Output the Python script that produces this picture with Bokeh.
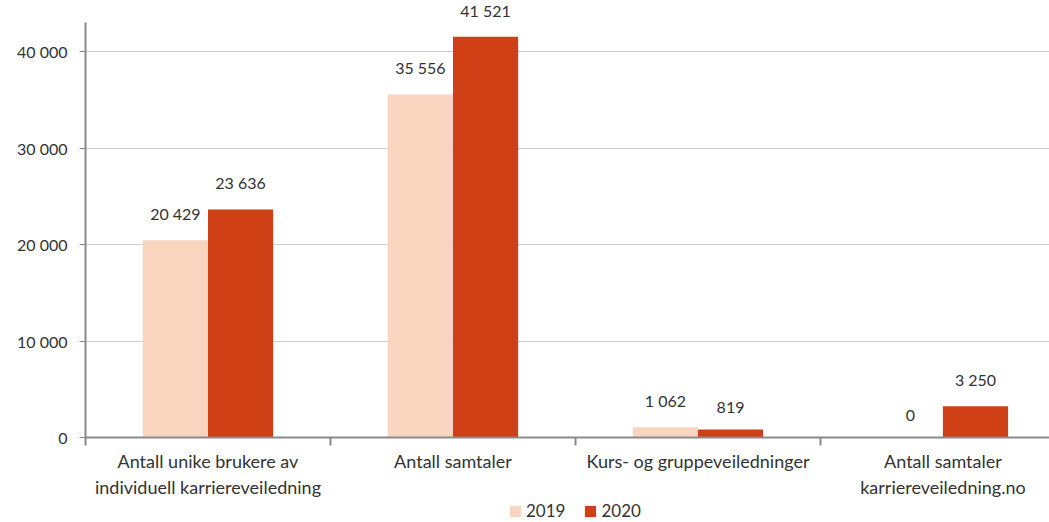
from bokeh.plotting import figure
from bokeh.models import (ColumnDataSource, Range1d, FixedTicker, Legend, LegendItem, LabelSet)
from bokeh.core.properties import value
from bokeh.embed import file_html
from bokeh.resources import INLINE

categories = ["Antall unike brukere av\nindividuell karriereveiledning",
              "Antall samtaler",
              "Kurs- og gruppeveiledninger",
              "Antall samtaler\nkarriereveiledning.no"]
years = ["2019", "2020"]
v2019 = [20429, 35556, 1062, 0]
v2020 = [23636, 41521, 819, 3250]
y_ticks = [0, 10000, 20000, 30000, 40000]

def fmt(v):
    return f"{v:,}".replace(",", " ")

FONT = "Lato"
TXT = "#333333"
C19 = "#F9D5C0"
C20 = "#CF4016"
AX = "#8a8a8a"

centers = [i + 0.5 for i in range(len(categories))]
src19 = ColumnDataSource(dict(x=[c - 0.133 for c in centers], top=v2019,
                              lab=[fmt(v) for v in v2019]))
src20 = ColumnDataSource(dict(x=[c + 0.133 for c in centers], top=v2020,
                              lab=[fmt(v) for v in v2020]))

p = figure(width=1049, height=522, output_backend="svg", toolbar_location=None,
           x_range=Range1d(0, 3.935), y_range=Range1d(-8808, 45285),
           min_border_left=85, min_border_right=0, min_border_top=0,
           min_border_bottom=0)
p.outline_line_color = None
p.xgrid.grid_line_color = None
p.ygrid.grid_line_color = "#9a9a9a"
p.ygrid.grid_line_dash = "1 1"
p.ygrid.grid_line_width = 1

r19 = p.vbar(x="x", top="top", width=0.266, source=src19, color=C19, line_color=None)
r20 = p.vbar(x="x", top="top", width=0.266, source=src20, color=C20, line_color=None)

for s in (src19, src20):
    p.add_layout(LabelSet(x="x", y="top", text="lab", source=s, text_align="center",
                          text_baseline="bottom", y_offset=17, text_font=value(FONT),
                          text_font_size="16px", text_color=TXT))

# y axis
p.yaxis.ticker = FixedTicker(ticks=y_ticks)
p.yaxis.bounds = (-800, 43000)
p.yaxis.major_label_overrides = {t: fmt(t) for t in y_ticks}
p.yaxis.major_label_text_font = FONT
p.yaxis.major_label_text_font_size = "16px"
p.yaxis.major_label_text_color = TXT
p.yaxis.axis_line_color = AX
p.yaxis.axis_line_width = 2
p.yaxis.major_tick_line_color = AX
p.yaxis.major_tick_out = 6
p.yaxis.major_tick_in = 0
p.yaxis.minor_tick_line_color = None
p.yaxis.major_label_standoff = 12

# x axis, drawn along y = 0
p.xaxis.fixed_location = 0
p.xaxis.ticker = FixedTicker(ticks=centers, minor_ticks=[1, 2, 3])
p.xaxis.major_label_overrides = {c: lab for c, lab in zip(centers, categories)}
p.xaxis.major_label_text_font = FONT
p.xaxis.major_label_text_font_size = "18px"
p.xaxis.major_label_text_color = TXT
p.xaxis.major_tick_line_color = None
p.xaxis.major_tick_out = 4
p.xaxis.minor_tick_line_color = AX
p.xaxis.minor_tick_out = 8
p.xaxis.minor_tick_in = 0
p.xaxis.minor_tick_line_width = 2
p.xaxis.axis_line_color = AX
p.xaxis.axis_line_width = 2
p.xaxis.major_label_standoff = 4

legend = Legend(items=[LegendItem(label=years[0], renderers=[r19]),
                       LegendItem(label=years[1], renderers=[r20])],
                orientation="horizontal", location=(423, 1),
                label_text_font=FONT, label_text_font_size="17px",
                label_text_color=TXT, glyph_width=14, glyph_height=14,
                spacing=18, label_standoff=4, padding=2, margin=0,
                label_height=17, border_line_color=None, background_fill_alpha=0)
p.add_layout(legend)

open("out.html", "w").write(file_html(p, INLINE))
